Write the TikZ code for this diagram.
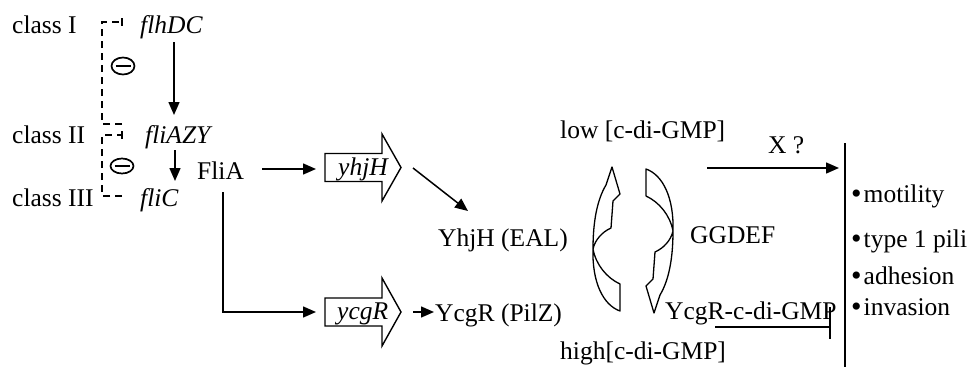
\documentclass[tikz,border=0pt]{standalone}
\usepackage{fontspec}
\setmainfont{Liberation Serif}
\usetikzlibrary{arrows.meta,shapes.geometric}
\begin{document}
\begin{tikzpicture}[x=1pt,y=-1pt,
  lbl/.style={inner sep=0pt, anchor=base west, font=\fontsize{25.5}{30}\selectfont},
  gene/.style={lbl, font=\fontsize{25.5}{30}\selectfont\itshape},
  con/.style={line width=1.5pt},
  arr/.style={con, -{Triangle[length=13pt,width=11pt]}},
  inh/.style={line width=1.5pt, dash pattern=on 7pt off 5pt},
  negsign/.style={ellipse, draw, line width=1.7pt, minimum width=23pt, minimum height=17pt, inner sep=0pt},
  blockarrow/.style={line width=1.4pt, fill=white, line join=miter},
  curvarrow/.style={line width=1.3pt, fill=white, line join=round},
  bul/.style={lbl},
]
\useasboundingbox (0,0) rectangle (975,367);

% left column labels
\node[lbl] (c1) at (12,33) {class I};
\node[gene] (flhDC) at (140,33) {flhDC};
\node[lbl] (c2) at (12,143) {class II};
\node[gene] (fliAZY) at (145,143) {fliAZY};
\node[lbl] (c3) at (12,206) {class III};
\node[gene] (fliC) at (140,206) {fliC};
\node[lbl] (FliA) at (197,179) {FliA};

% dashed negative feedback brackets
\coordinate (b1a) at (121,22);
\coordinate (b1b) at (102,22);
\coordinate (b1c) at (102,124);
\coordinate (b1d) at (122,124);
\draw[inh] (b1d) -- (b1c) -- (b1b) -- (b1a);
\draw[con] (122,18) -- (122,26);
\coordinate (b2a) at (121,135);
\coordinate (b2b) at (102,135);
\coordinate (b2c) at (102,196);
\coordinate (b2d) at (122,196);
\draw[inh] (b2d) -- (b2c) -- (b2b) -- (b2a);
\draw[con] (122,131) -- (122,139);

\node[negsign] (neg1) at (123,66) {};
\draw[line width=2.8pt] ([xshift=-7.5pt]neg1.center) -- ([xshift=7.5pt]neg1.center);
\node[negsign, minimum height=15pt] (neg2) at (122,166) {};
\draw[line width=2.8pt] ([xshift=-7.5pt]neg2.center) -- ([xshift=7.5pt]neg2.center);

% cascade arrows
\coordinate (a1s) at (174,42);
\coordinate (a1e) at (174,115);
\draw[arr] (a1s) -- (a1e);
\coordinate (a2s) at (175,150);
\coordinate (a2e) at (175,181);
\draw[arr] (a2s) -- (a2e);

% genes as block arrows
\draw[blockarrow] (325,153.5) -- (382,153.5) -- (382,134) -- (401,167.5) -- (382,201) -- (382,181.5) -- (325,181.5) -- cycle;
\node[gene] (yhjH) at (338,175) {yhjH};
\draw[blockarrow] (325,298) -- (382,298) -- (382,278) -- (401,312) -- (382,346) -- (382,326) -- (325,326) -- cycle;
\node[gene] (ycgR) at (337,319) {ycgR};

\coordinate (f1s) at (262,169);
\coordinate (f1e) at (316,169);
\draw[arr] (f1s) -- (f1e);
\coordinate (f2s) at (223,192);
\coordinate (f2e) at (316,312);
\draw[arr] (f2s) |- (f2e);

\node[lbl] (YhjH) at (438,246) {YhjH (EAL)};
\node[lbl] (YcgR) at (435,321) {YcgR (PilZ)};
\coordinate (h1s) at (413,168);
\coordinate (h1e) at (468,211);
\draw[arr] (h1s) -- (h1e);
\coordinate (r1s) at (413,312);
\coordinate (r1e) at (434,312);
\draw[arr] (r1s) -- (r1e);

% cycle
\node[lbl] (low) at (560,138) {low [c-di-GMP]};
\node[lbl] (high) at (560,359) {high[c-di-GMP]};
\node[lbl] (GGDEF) at (690,243) {GGDEF};
\node[lbl] (YcgRc) at (665,319) {YcgR-c-di-GMP};

\def\leftcurved{(612,167) -- (620,194) -- (613,201) -- (611,228)
  .. controls (602,232) and (595,240) .. (593,249)
  .. controls (596,265) and (607,278) .. (620,284)
  -- (620,311)
  .. controls (603,305) and (592,282) .. (593,249)
  .. controls (593,222) and (597,200) .. (606,185) -- cycle}
\draw[curvarrow] \leftcurved;
\begin{scope}[rotate around={180:(633,240)}]
\draw[curvarrow] \leftcurved;
\end{scope}

% outputs
\node[lbl] (X) at (768,153) {X ?};
\coordinate (xs) at (707,168);
\coordinate (xe) at (839,168);
\draw[arr] (xs) -- (xe);
\coordinate (vt) at (845,143);
\coordinate (vb) at (845,367);
\draw[con] (vt) -- (vb);
\coordinate (is) at (715,327);
\coordinate (ie) at (830,327);
\draw[con] (is) -- (ie);
\draw[con] (830,307) -- (830,339);

\node[bul] (m1) at (851,202) {\raisebox{-1pt}{\fontsize{30}{30}\selectfont\textbullet}\hspace{2pt}motility};
\node[bul] (m2) at (851,247) {\raisebox{-1pt}{\fontsize{30}{30}\selectfont\textbullet}\hspace{2pt}type 1 pili};
\node[bul] (m3) at (851,284) {\raisebox{-1pt}{\fontsize{30}{30}\selectfont\textbullet}\hspace{2pt}adhesion};
\node[bul] (m4) at (851,315) {\raisebox{-1pt}{\fontsize{30}{30}\selectfont\textbullet}\hspace{2pt}invasion};
\end{tikzpicture}
\end{document}
